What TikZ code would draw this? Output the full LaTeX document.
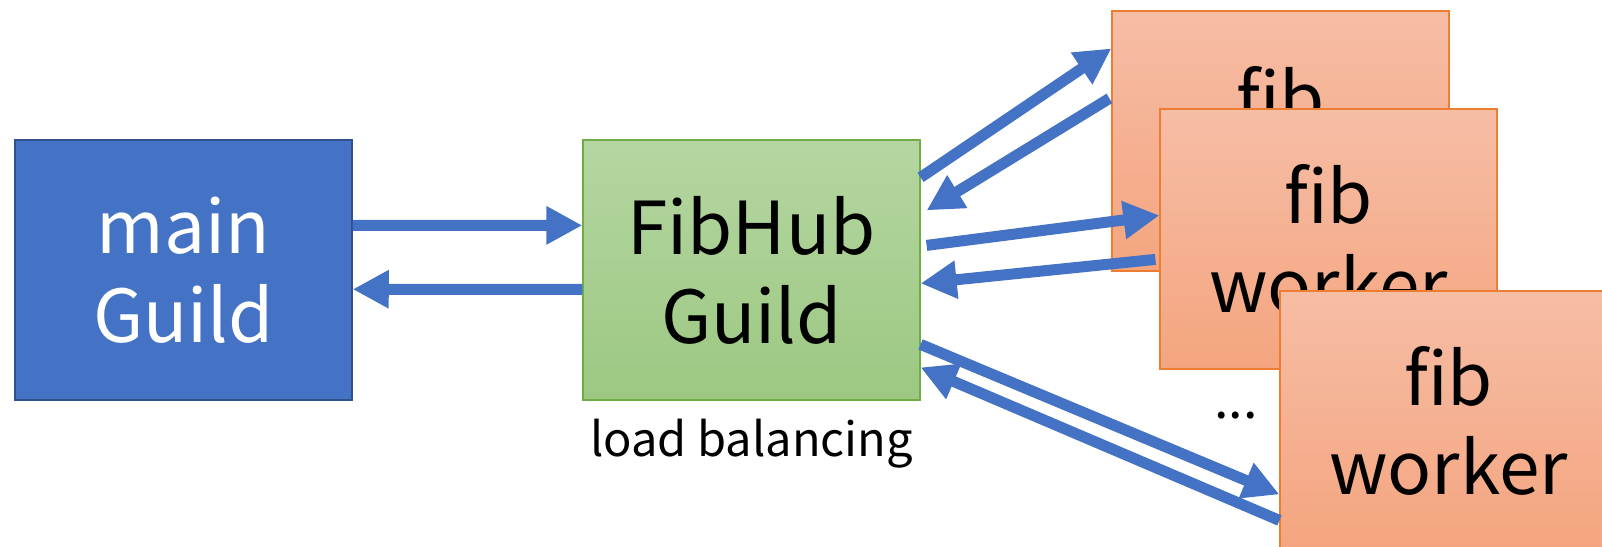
\documentclass[tikz,border=0pt]{standalone}
\usepackage{fontspec}
\setmainfont{Noto Sans CJK JP}
\usepackage{tikz}
\usetikzlibrary{arrows.meta}

\definecolor{mainfill}{HTML}{4472C4}
\definecolor{mainedge}{HTML}{2F528F}
\definecolor{hubtop}{HTML}{B5D6A1}
\definecolor{hubbottom}{HTML}{9CC882}
\definecolor{hubedge}{HTML}{70AD47}
\definecolor{fibtop}{HTML}{F6BDA5}
\definecolor{fibbottom}{HTML}{F4A57F}
\definecolor{fibedge}{HTML}{ED7D31}

\tikzstyle{guild} = [rectangle, minimum width=337pt, minimum height=260pt, inner sep=0pt, align=center, font=\fontsize{73}{89}\selectfont]
\tikzstyle{mainbox} = [guild, fill=mainfill, draw=mainedge, line width=1.5pt, text=white]
\tikzstyle{hubbox} = [guild, top color=hubtop, bottom color=hubbottom, draw=hubedge, line width=1.2pt]
\tikzstyle{worker} = [guild, top color=fibtop, bottom color=fibbottom, draw=fibedge, line width=1.2pt]
\tikzstyle{msg} = [draw=mainfill, line width=11pt, -{Triangle[length=36pt,width=36pt]}]

\begin{document}
\begin{tikzpicture}[x=1pt, y=-1pt]
   \clip (0,0) rectangle (1602,546);
   \fill[white] (0,0) rectangle (1602,546);

   \node (main) [mainbox] at (183.5,270) {main\\Guild};
   \node (hub) [hubbox] at (751.5,270) {FibHub\\Guild};
   \node (balance) [font=\fontsize{47}{52}\selectfont, anchor=north] at (751.5,416) {load balancing};

   \node (fibA) [worker] at (1280.5,141) {fib\\worker};
   \node (fibB) [worker] at (1328.5,239) {fib\\worker};
   \node (fibC) [worker] at (1448.5,421) {fib\\worker};
   \node (more) [font=\fontsize{52}{56}\selectfont] at (1236,416) {...};

   % main <-> hub
   \draw [msg] ([yshift=-86pt]main.north east) -- ([yshift=-86pt]hub.north west);
   \draw [msg] ([yshift=-150pt]hub.north west) -- ([yshift=-150pt]main.north east);

   % hub <-> workers
   \draw [msg] ([yshift=-38pt]hub.north east) -- ([yshift=-38pt]fibA.north west);
   \draw [msg] ([shift={(-2pt,-88pt)}]fibA.north west) -- ([shift={(6pt,-71pt)}]hub.north east);
   \draw [msg] ([shift={(6pt,-106pt)}]hub.north east) -- ([yshift=-107pt]fibB.north west);
   \draw [msg] ([shift={(-4pt,-151pt)}]fibB.north west) -- ([yshift=-144pt]hub.north east);
   \draw [msg] ([yshift=-205pt]hub.north east) -- ([yshift=-204pt]fibC.north west);
   \draw [msg] ([yshift=-230pt]fibC.north west) -- ([yshift=-228pt]hub.north east);
\end{tikzpicture}
\end{document}
